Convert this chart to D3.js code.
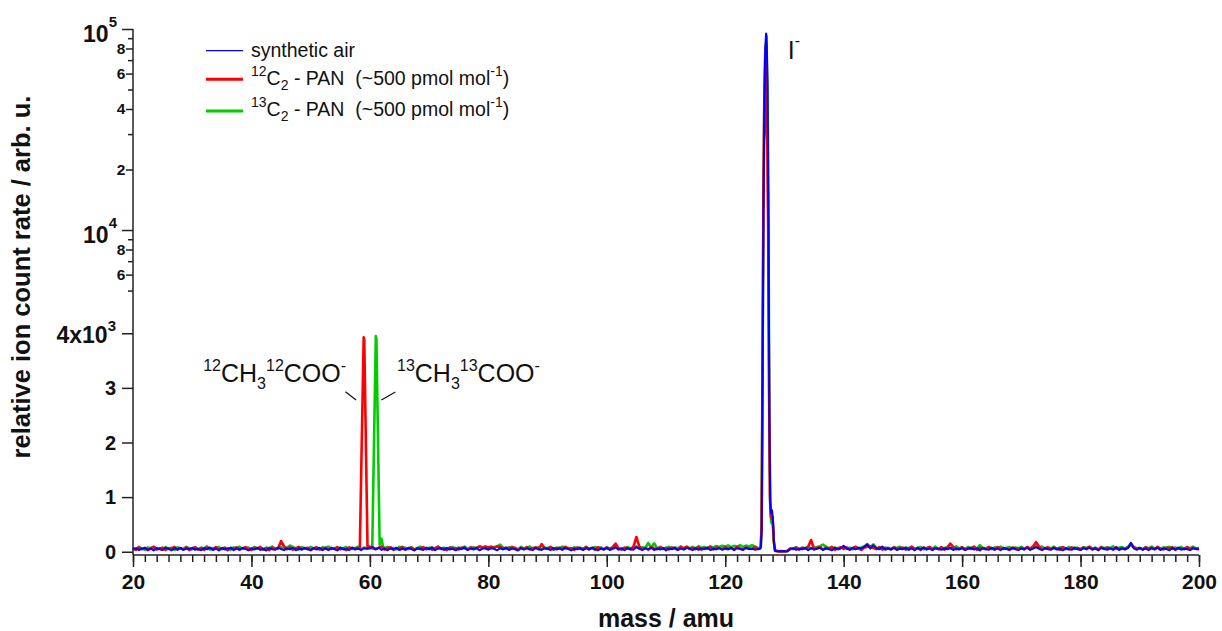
<!DOCTYPE html>
<html>
<head>
<meta charset="utf-8">
<script src="https://cdn.jsdelivr.net/npm/d3@7"></script>
<style>
  html, body { margin: 0; padding: 0; background: #fff; }
  svg { display: block; font-family: Arial, "Liberation Sans", sans-serif; }
  text { white-space: pre; }
</style>
</head>
<body>
<svg id="chart" width="1222" height="631"></svg>
<script>
// ---- mass grid: baseline readings every 0.5 amu from 20 to 200 ----
const massStart = 20, massStep = 0.5;

// Baseline readings per trace (null where the detailed peak lists below take over)
const blueBase = [
  40,62,28,55,71,33,58,24,66,45,30,74,52,26,63,38,69,31,57,48,
  72,35,54,27,65,44,78,30,59,22,68,41,53,75,29,61,36,70,47,25,
  64,39,73,32,56,21,67,46,34,76,50,28,62,43,71,26,58,37,69,44,
  31,66,40,74,27,57,35,63,49,23,70,42,55,30,77,38,60,29,65,52,
  68,85,45,72,33,58,26,64,41,70,30,55,37,73,47,24,61,50,32,67,
  43,75,29,56,66,34,71,39,53,25,62,46,78,31,58,40,69,27,54,63,
  36,70,48,26,65,41,74,32,57,45,23,68,38,60,51,29,72,44,33,66,
  55,28,71,40,62,35,76,47,24,59,43,67,30,64,37,73,49,26,58,41,
  69,32,54,77,38,61,27,66,45,34,85,58,29,63,48,72,31,56,40,67,
  25,60,44,74,33,57,39,70,52,28,65,36,61,47,75,30,55,42,68,35,
  58,41,73,29,64,50,37,71,46,55,38,null,null,null,null,null,null,null,null,null,
  null,null,null,62,33,57,44,70,28,65,39,54,73,31,60,47,25,68,42,59,
  110,58,36,67,45,72,60,95,135,55,120,70,45,90,35,62,41,69,30,56,
  47,71,34,60,26,65,43,74,38,57,29,68,50,36,63,45,75,32,58,40,
  66,30,54,72,39,61,24,69,48,35,73,43,58,27,64,51,37,70,45,29,
  62,41,74,33,56,85,52,28,67,45,36,71,40,59,25,63,48,34,70,44,
  31,65,42,73,38,57,27,68,50,36,62,44,75,30,59,46,65,165,60,35,
  70,39,57,28,66,43,74,33,60,48,25,67,41,71,36,58,45,29,64,50,
  42
];

const redBase = [
  62,35,80,48,70,29,66,85,41,57,74,32,63,51,88,38,69,45,78,30,
  55,82,40,67,33,76,58,44,86,36,61,72,27,68,50,79,39,63,84,46,
  34,71,57,88,42,65,30,77,53,60,195,100,45,81,37,64,90,49,58,73,
  28,66,83,41,59,75,35,70,52,87,44,62,31,79,55,68,null,null,null,null,
  null,null,47,74,95,39,63,82,34,69,56,88,42,60,77,31,66,51,85,45,
  72,36,64,91,48,58,30,80,54,67,41,76,62,38,83,57,75,92,70,98,
  78,95,66,100,82,58,73,44,89,61,35,71,53,84,40,67,79,48,140,63,
  50,86,37,65,74,42,90,55,68,33,77,59,46,87,52,70,38,81,60,44,
  73,49,85,150,57,39,78,62,44,91,270,95,54,70,36,82,61,47,88,56,
  67,40,79,58,33,86,64,95,51,72,45,84,38,69,57,90,43,76,62,50,
  81,55,68,42,89,60,37,75,64,52,83,null,null,null,null,null,null,null,null,null,
  null,null,null,49,78,36,70,58,90,215,45,67,83,40,74,55,88,33,62,79,
  52,80,41,69,87,57,34,76,92,98,66,48,85,39,71,60,44,82,53,68,
  75,38,63,86,47,70,31,79,56,89,42,65,50,84,36,72,150,88,45,61,
  83,40,67,52,91,35,74,58,44,80,62,37,86,49,70,56,33,77,64,48,
  71,45,88,54,100,175,90,39,65,82,47,73,58,36,85,60,43,79,51,68,
  40,76,59,87,45,68,34,81,55,72,62,38,84,50,66,43,78,150,85,57,
  65,37,80,53,71,46,89,58,41,74,56,83,35,69,61,48,86,44,73,52,
  60
];

const greenBase = [
  70,45,88,58,36,79,62,94,50,67,40,85,55,73,33,81,60,47,90,64,
  52,83,42,75,61,97,38,68,56,87,45,72,64,35,80,58,92,49,66,77,
  43,86,59,71,37,78,65,95,48,62,84,51,74,115,90,57,39,82,68,46,
  89,55,73,41,80,63,96,50,68,36,77,60,87,44,71,58,93,47,75,62,
  null,null,null,null,null,null,85,52,70,43,91,60,76,48,83,39,67,94,55,72,
  63,80,46,92,57,74,38,69,86,51,78,60,95,44,66,82,53,100,88,71,
  76,58,90,97,130,73,49,84,62,78,42,88,57,70,95,50,65,81,46,74,
  68,89,45,77,60,93,52,71,40,84,63,75,55,90,48,67,86,58,79,44,
  82,56,73,94,48,66,39,87,61,75,97,53,80,68,160,72,155,59,83,47,
  70,91,54,76,63,98,45,80,66,87,58,102,72,85,64,96,78,105,88,110,
  95,115,84,108,92,120,88,112,97,118,100,null,null,null,null,null,null,null,null,null,
  null,null,null,58,82,47,75,63,90,54,71,86,100,130,95,68,52,80,61,77,
  88,56,73,45,92,66,79,100,140,84,135,70,57,89,62,74,48,83,69,91,
  54,78,63,95,50,72,86,44,68,81,59,93,47,76,65,88,55,70,97,61,
  79,52,85,66,93,57,120,74,61,89,46,80,67,95,53,71,84,49,77,63,
  90,58,75,47,86,100,69,96,55,73,62,92,50,81,68,44,87,60,78,66,
  52,83,70,94,57,76,45,88,63,80,67,98,54,74,85,59,90,115,78,64,
  71,48,86,62,95,56,73,41,82,68,91,53,77,60,88,47,75,64,93,58,
  66
];

// Detailed readings across the peaks: [mass / amu, count rate]
const blueIodide = [
  [125.5,45],[125.8,50],[126.0,70],[126.15,400],[126.3,3000],[126.45,12000],
  [126.6,40000],[126.75,78000],[126.9,95000],[127.0,92000],[127.15,55000],
  [127.3,12000],[127.45,2500],[127.6,900],[127.75,700],[127.9,760],[128.05,600],
  [128.25,150],[128.45,15],[129.0,10],[129.5,8],[130.0,12],[130.5,10],[130.75,30],[131.0,42]
];
const redIodide = [
  [125.5,60],[125.8,58],[126.0,90],[126.15,500],[126.3,3500],[126.45,14000],
  [126.6,45000],[126.75,70000],[126.85,82000],[127.0,30000],[127.1,28000],
  [127.25,10000],[127.4,3000],[127.55,1000],[127.7,650],[127.85,600],[128.0,640],
  [128.2,200],[128.4,20],[129.0,5],[129.5,8],[130.0,6],[130.5,10],[130.75,40],[131.0,58]
];
const greenIodide = [
  [125.5,65],[125.8,62],[126.0,80],[126.15,450],[126.3,3200],[126.45,13000],
  [126.6,42000],[126.75,75000],[126.88,86000],[127.0,70000],[127.15,45000],
  [127.3,11000],[127.45,2600],[127.6,900],[127.75,560],[127.85,520],[128.0,600],
  [128.2,180],[128.4,25],[129.0,8],[129.5,12],[130.0,9],[130.5,14],[130.75,45],[131.0,62]
];
const redAcetate = [
  [58.0,57],[58.3,62],[58.95,3925],[59.05,3880],[59.6,75],[60.0,95],[60.5,64]
];
const greenAcetate = [
  [60.0,62],[60.4,66],[61.0,3950],[61.1,3905],[61.65,130],[61.8,245],[62.0,235],[62.2,95],[62.5,68]
];

// Axis ticks
const xMajorTicks = [20,40,60,80,100,120,140,160,180,200];
const linTicks = [0,1000,2000,3000,4000];
const linTickLabels = ["0","1","2","3","4x10|3"];
const logMajorTicks = [1e4,1e5];
const logMantissaTicks = [6e3,8e3,2e4,4e4,6e4,8e4];
const logMantissaLabels = ["6","8","2","4","6","8"];
const logMinorTicks = [5e3,7e3,9e3,3e4,5e4,7e4,9e4];

const legendColors = ["#0000ff", "#ff0000", "#00cc00"];

// ---- scales ----
const svg = d3.select("#chart");
const x = d3.scaleLinear().domain([20, 200]).range([133, 1199]);
// split y axis: linear part up to 4.1e3, logarithmic part from 4.3e3 to 1e5
const LIN_TOP = 4100, LOG_BOTTOM = 4300;
const yLin = d3.scaleLinear().domain([-60, LIN_TOP]).range([555, 327.8]);
const yLog = d3.scaleLog().domain([LOG_BOTTOM, 1e5]).range([303.7, 29]);
function y(v) {
  if (v <= LIN_TOP) return yLin(v);
  if (v >= LOG_BOTTOM) return yLog(v);
  const t = (v - LIN_TOP) / (LOG_BOTTOM - LIN_TOP);
  return yLin(LIN_TOP) + t * (yLog(LOG_BOTTOM) - yLin(LIN_TOP));
}

function buildTrace(base, peaks) {
  const pts = [];
  base.forEach((v, i) => { if (v !== null) pts.push([massStart + i * massStep, v]); });
  peaks.forEach(p => p.forEach(d => pts.push(d)));
  pts.sort((a, b) => a[0] - b[0]);
  return pts;
}
const traces = [
  { data: buildTrace(greenBase, [greenAcetate, greenIodide]), color: legendColors[2], width: 2.6 },
  { data: buildTrace(redBase, [redAcetate, redIodide]), color: legendColors[1], width: 2.6 },
  { data: buildTrace(blueBase, [blueIodide]), color: legendColors[0], width: 2 }
];

const line = d3.line().x(d => x(d[0])).y(d => y(d[1]));
svg.append("g").selectAll("path").data(traces).join("path")
  .attr("d", d => line(d.data))
  .attr("fill", "none")
  .attr("stroke", d => d.color)
  .attr("stroke-width", d => d.width)
  .attr("stroke-linejoin", "round");

// ---- axes ----
const axisColor = "#222";
const font = "Arial, 'Liberation Sans', sans-serif";
const axisG = svg.append("g");

function styleAxis(g) {
  g.select(".domain").remove();
  g.selectAll(".tick line").attr("stroke", axisColor).attr("stroke-width", 1.5);
}

// x axis
const xAxisY = 555;
axisG.append("g").attr("transform", `translate(0,${xAxisY})`)
  .call(d3.axisBottom(x).tickValues(d3.range(20, 201, 2)).tickSize(7).tickFormat(""))
  .call(styleAxis);
axisG.append("g").attr("transform", `translate(0,${xAxisY})`)
  .call(d3.axisBottom(x).tickValues(xMajorTicks).tickSize(12).tickFormat(d3.format("d")))
  .call(styleAxis)
  .call(g => g.selectAll(".tick text")
    .attr("y", 0).attr("dy", 0).attr("transform", "translate(0,34)")
    .attr("fill", "#111").attr("font-size", 21).attr("font-weight", "bold")
    .attr("font-family", font));
axisG.append("line")
  .attr("x1", x(20)).attr("x2", x(200)).attr("y1", xAxisY).attr("y2", xAxisY)
  .attr("stroke", axisColor).attr("stroke-width", 1.5);

// y axis (one continuous spine through both parts)
const yAxisX = x(20);
axisG.append("line")
  .attr("x1", yAxisX).attr("x2", yAxisX).attr("y1", yLog(1e5)).attr("y2", xAxisY)
  .attr("stroke", axisColor).attr("stroke-width", 1.5);

// linear part
axisG.append("g").attr("transform", `translate(${yAxisX},0)`)
  .call(d3.axisLeft(yLin).tickValues(linTicks).tickSize(11).tickFormat(""))
  .call(styleAxis);
linTicks.forEach((v, i) => {
  const lab = linTickLabels[i];
  const t = axisG.append("text")
    .attr("x", yAxisX - 17).attr("text-anchor", "end")
    .attr("font-family", font).attr("font-weight", "bold").attr("fill", "#111");
  if (lab.includes("|")) {
    const [mant, sup] = lab.split("|");
    t.attr("y", yLin(v) + 10);
    t.append("tspan").attr("font-size", 23).text(mant);
    t.append("tspan").attr("font-size", 15).attr("dy", -12).text(sup);
  } else {
    t.attr("y", yLin(v) + 7.2).attr("font-size", 20).text(lab);
  }
});

// logarithmic part
axisG.append("g").attr("transform", `translate(${yAxisX},0)`)
  .call(d3.axisLeft(yLog).tickValues(logMajorTicks).tickSize(11).tickFormat(""))
  .call(styleAxis);
axisG.append("g").attr("transform", `translate(${yAxisX},0)`)
  .call(d3.axisLeft(yLog).tickValues(logMantissaTicks).tickSize(7).tickFormat(""))
  .call(styleAxis);
axisG.append("g").attr("transform", `translate(${yAxisX},0)`)
  .call(d3.axisLeft(yLog).tickValues(logMinorTicks).tickSize(5).tickFormat(""))
  .call(styleAxis);
logMajorTicks.forEach(v => {
  const t = axisG.append("text")
    .attr("x", yAxisX - 16).attr("y", yLog(v) + 13)
    .attr("text-anchor", "end").attr("font-family", font)
    .attr("font-weight", "bold").attr("fill", "#111");
  t.append("tspan").attr("font-size", 23).text("10");
  t.append("tspan").attr("font-size", 15).attr("dy", -15).text(String(Math.round(Math.log10(v))));
});
logMantissaTicks.forEach((v, i) => {
  axisG.append("text")
    .attr("x", yAxisX - 7.6).attr("y", yLog(v) + 5.5)
    .attr("text-anchor", "end").attr("font-family", font)
    .attr("font-weight", "bold").attr("font-size", 15.5).attr("fill", "#111")
    .text(logMantissaLabels[i]);
});

// axis titles
svg.append("text")
  .attr("x", (x(20) + x(200)) / 2).attr("y", 627)
  .attr("text-anchor", "middle").attr("font-family", font)
  .attr("font-weight", "bold").attr("font-size", 25).attr("fill", "#111")
  .text("mass / amu");
svg.append("text")
  .attr("transform", "translate(30,277) rotate(-90)")
  .attr("text-anchor", "middle").attr("font-family", font)
  .attr("font-weight", "bold").attr("font-size", 25.5).attr("fill", "#111")
  .text("relative ion count rate / arb. u.");

// ---- legend ----
const legendRows = [
  { lineY: 50.7, textY: 57, w: 1.2, parts: [["synthetic air", 0]] },
  { lineY: 79.3, textY: 85, w: 3, parts: [["12", -1], ["C", 0], ["2", 1], [" - PAN  (~500 pmol mol", 0], ["-1", -1], [")", 0]] },
  { lineY: 111, textY: 116, w: 3, parts: [["13", -1], ["C", 0], ["2", 1], [" - PAN  (~500 pmol mol", 0], ["-1", -1], [")", 0]] }
];

// rich text with superscripts (-1) and subscripts (+1)
function richText(t, parts, size, supSize, supShift, subShift) {
  let level = 0;
  parts.forEach(([s, kind]) => {
    const target = kind === -1 ? -supShift : kind === 1 ? subShift : 0;
    t.append("tspan")
      .attr("font-size", kind === 0 ? size : supSize)
      .attr("dy", target - level)
      .text(s);
    level = target;
  });
}

const legend = svg.append("g");
legendRows.forEach((r, i) => {
  legend.append("line")
    .attr("x1", 206).attr("x2", 243).attr("y1", r.lineY).attr("y2", r.lineY)
    .attr("stroke", legendColors[i]).attr("stroke-width", r.w);
  const t = legend.append("text")
    .attr("x", 251).attr("y", r.textY)
    .attr("font-family", font).attr("font-size", 19.5).attr("fill", "#111");
  richText(t, r.parts, 19.5, 14, 9, 5);
});

// ---- peak annotations ----
const ann = svg.append("g").attr("font-family", font).attr("fill", "#111");
const leftLabel = ann.append("text").attr("x", x(31.85)).attr("y", yLin(3113));
richText(leftLabel, [["12", -1], ["CH", 0], ["3", 1], ["12", -1], ["COO", 0], ["-", -1]], 25, 16, 11, 7);
const rightLabel = ann.append("text").attr("x", x(64.58)).attr("y", yLin(3113));
richText(rightLabel, [["13", -1], ["CH", 0], ["3", 1], ["13", -1], ["COO", 0], ["-", -1]], 25, 16, 11, 7);

const leaders = [
  [[55.87, 2930], [57.67, 2778]],
  [[61.94, 2778], [64.3, 2925]]
];
ann.selectAll("line").data(leaders).join("line")
  .attr("x1", d => x(d[0][0])).attr("y1", d => yLin(d[0][1]))
  .attr("x2", d => x(d[1][0])).attr("y2", d => yLin(d[1][1]))
  .attr("stroke", "#111").attr("stroke-width", 1.2);

const iodLabel = ann.append("text").attr("x", x(130.55)).attr("y", yLog(71000));
richText(iodLabel, [["I", 0], ["-", -1]], 25, 16, 13, 0);
</script>
</body>
</html>
